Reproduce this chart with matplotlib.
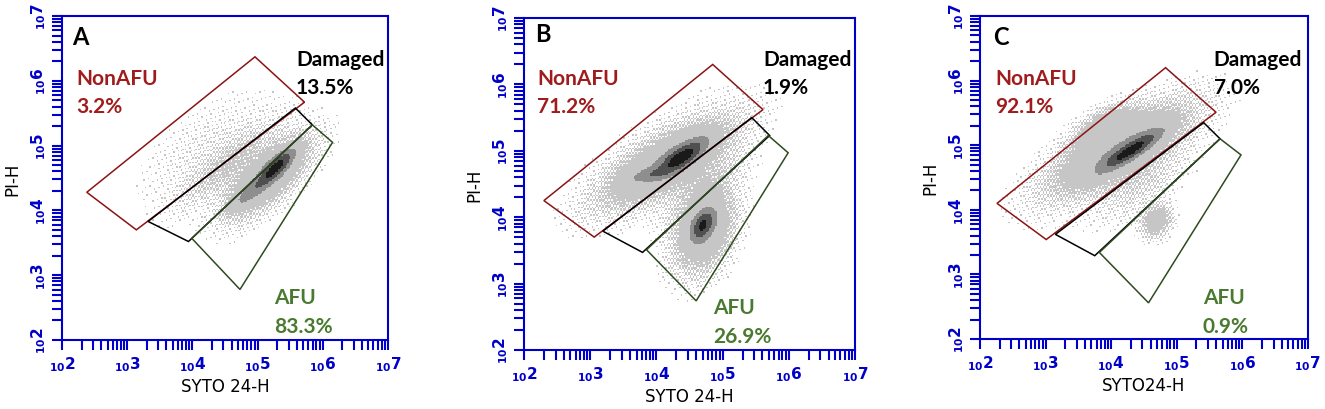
import numpy as np
import matplotlib
matplotlib.use('Agg')
import matplotlib.pyplot as plt
from matplotlib.patches import Polygon
from matplotlib.ticker import LogLocator, FixedLocator, FuncFormatter, NullFormatter
from matplotlib.colors import ListedColormap

# ---------------- data ----------------
panel_letters = ['A', 'B', 'C']
x_labels = ['SYTO 24-H', 'SYTO 24-H', 'SYTO24-H']
y_label = 'PI-H'
nonafu_pct = ['3.2%', '71.2%', '92.1%']
damaged_pct = ['13.5%', '1.9%', '7.0%']
afu_pct = ['83.3%', '26.9%', '0.9%']
decades = [2, 3, 4, 5, 6, 7]

# gate vertices, log10 units (x = SYTO 24-H, y = PI-H)
nonafu_gates = [
    [(2.38, 4.28), (4.96, 6.37), (5.72, 5.67), (3.14, 3.70)],
    [(2.30, 4.25), (4.85, 6.30), (5.61, 5.62), (3.06, 3.70)],
    [(2.26, 4.10), (4.83, 6.20), (5.60, 5.51), (3.01, 3.54)],
]
damaged_gates = [
    [(3.32, 3.83), (5.58, 5.58), (5.84, 5.32), (3.94, 3.52)],
    [(3.19, 3.79), (5.44, 5.50), (5.71, 5.23), (3.79, 3.47)],
    [(3.15, 3.62), (5.41, 5.35), (5.66, 5.10), (3.75, 3.29)],
]
afu_gates = [
    [(3.99, 3.57), (5.84, 5.32), (6.15, 5.05), (4.73, 2.78)],
    [(3.85, 3.51), (5.69, 5.23), (5.99, 4.97), (4.60, 2.74)],
    [(3.82, 3.34), (5.66, 5.10), (5.98, 4.85), (4.57, 2.56)],
]

# event-density components: centre x, centre y (log10), spread major, spread minor, angle (deg), weight
clusters_A = [
    (5.17, 4.52, 0.50, 0.21, 43, 2.2),
    (4.88, 4.28, 0.24, 0.075, 42, 2.2),
    (5.28, 4.66, 0.22, 0.075, 45, 8.0),
    (4.55, 4.72, 0.60, 0.17, 40, 0.75),
    (4.20, 5.00, 0.70, 0.30, 38, 0.22),
]
clusters_B = [
    (4.15, 4.82, 0.68, 0.24, 30, 2.1),
    (4.38, 4.90, 0.25, 0.09, 35, 8.5),
    (3.92, 4.64, 0.20, 0.055, 12, 2.3),
    (4.72, 3.82, 0.40, 0.25, 70, 2.2),
    (4.70, 3.88, 0.15, 0.09, 60, 6.8),
    (4.75, 4.45, 0.48, 0.20, 40, 0.45),
    (4.20, 4.90, 0.80, 0.34, 35, 0.20),
]
clusters_C = [
    (4.12, 4.93, 0.72, 0.25, 30, 2.2),
    (3.90, 5.30, 0.30, 0.14, 30, 1.6),
    (4.30, 4.92, 0.31, 0.075, 33, 8.0),
    (4.69, 3.83, 0.16, 0.13, 60, 1.7),
    (4.45, 4.35, 0.48, 0.20, 35, 0.42),
    (4.20, 4.90, 0.85, 0.34, 32, 0.20),
]
clusters = [clusters_A, clusters_B, clusters_C]

# ---------------- styling / layout ----------------
BLUE = '#0000C8'
RED_LINE = '#8B1414'
GREEN_LINE = '#2E4A1E'
RED_TXT = '#A01C1C'
GREEN_TXT = '#4A7A30'
gray_levels = ['#C6C6C6', '#8E8E8E', '#505050', '#1A1A1A']
level_thresholds = [1.0, 2.6, 5.0, 8.0]

axes_rects = [
    (0.0468, 0.1683, 0.2460, 0.7902),
    (0.3955, 0.1439, 0.2498, 0.8098),
    (0.7396, 0.1707, 0.2475, 0.7878),
]
letter_pos = [(0.03, 0.938), (0.033, 0.952), (0.04, 0.938)]
nonafu_pos = [(0.043, 0.809, 0.722), (0.039, 0.819, 0.735), (0.046, 0.808, 0.721)]
damaged_pos = [(0.718, 0.867, 0.781), (0.722, 0.877, 0.792), (0.713, 0.867, 0.780)]
afu_pos = [(0.650, 0.133, 0.043), (0.571, 0.130, 0.042), (0.680, 0.130, 0.040)]

LABEL_FONT = 'Lato'
LABEL_SIZE = 15

N = 220
edges = np.linspace(2, 7, N + 1)
centres = 0.5 * (edges[:-1] + edges[1:])
GX, GY = np.meshgrid(centres, centres)
# deterministic speckle texture (interleaved-gradient pattern) for sparse event regions
II, JJ = np.meshgrid(np.arange(N), np.arange(N))
speckle = np.mod(52.9829189 * np.mod(0.06711056 * II + 0.00583715 * JJ, 1.0), 1.0)

fig = plt.figure(figsize=(13.25, 4.10), dpi=100)

fmt = FuncFormatter(lambda v, p: r'$\mathbf{{}_{10}%d}$' % int(round(np.log10(v))))

for i in range(3):
    ax = fig.add_axes(axes_rects[i])
    ax.set_xscale('log')
    ax.set_yscale('log')
    ax.set_xlim(1e2, 1e7)
    ax.set_ylim(1e2, 1e7)

    # density
    D = np.zeros_like(GX)
    for (cx, cy, sM, sm, ang, w) in clusters[i]:
        t = np.deg2rad(ang)
        u = (GX - cx) * np.cos(t) + (GY - cy) * np.sin(t)
        v = -(GX - cx) * np.sin(t) + (GY - cy) * np.cos(t)
        D += w * np.exp(-0.5 * ((u / sM) ** 2 + (v / sm) ** 2))
    lev = np.zeros_like(D)
    lev[(D >= level_thresholds[0]) | ((D > 0.04) & (D > speckle * level_thresholds[0]))] = 1
    for k, th in enumerate(level_thresholds[1:], start=2):
        lev[D >= th] = k
    lev = np.ma.masked_where(lev == 0, lev)
    ax.pcolormesh(10 ** edges, 10 ** edges, lev, cmap=ListedColormap(gray_levels),
                  vmin=0.5, vmax=4.5, shading='flat', zorder=1, rasterized=True)

    # gates
    for gate, col in ((nonafu_gates[i], RED_LINE), (damaged_gates[i], 'black'), (afu_gates[i], GREEN_LINE)):
        pts = [(10 ** gx, 10 ** gy) for gx, gy in gate]
        ax.add_patch(Polygon(pts, closed=True, fill=False, edgecolor=col, lw=1.1, zorder=3))

    # axes styling
    for s in ax.spines.values():
        s.set_color(BLUE)
        s.set_linewidth(1.5)
    ax.xaxis.set_major_locator(FixedLocator([10.0 ** d for d in decades]))
    ax.yaxis.set_major_locator(FixedLocator([10.0 ** d for d in decades]))
    ax.xaxis.set_minor_locator(LogLocator(base=10, subs=np.arange(2, 10), numticks=20))
    ax.yaxis.set_minor_locator(LogLocator(base=10, subs=np.arange(2, 10), numticks=20))
    ax.xaxis.set_major_formatter(fmt)
    ax.yaxis.set_major_formatter(fmt)
    ax.xaxis.set_minor_formatter(NullFormatter())
    ax.yaxis.set_minor_formatter(NullFormatter())
    ax.tick_params(which='both', direction='out', color=BLUE, length=7, width=1.5,
                   labelcolor=BLUE, labelsize=11, pad=3)
    ax.tick_params(axis='y', labelrotation=90)
    for lab in ax.get_yticklabels():
        lab.set_va('center')

    ax.set_xlabel(x_labels[i], fontsize=12, color='black', labelpad=3)
    ax.set_ylabel(y_label, fontsize=12, color='black', labelpad=6)

    # texts
    lx, ly = letter_pos[i]
    ax.text(lx, ly, panel_letters[i], transform=ax.transAxes, fontsize=17, fontweight='bold',
            family=LABEL_FONT, ha='left', va='center', color='black')
    x0, y1, y2 = nonafu_pos[i]
    ax.text(x0, y1, 'NonAFU', transform=ax.transAxes, fontsize=LABEL_SIZE, fontweight='bold',
            family=LABEL_FONT, color=RED_TXT, ha='left', va='center')
    ax.text(x0, y2, nonafu_pct[i], transform=ax.transAxes, fontsize=LABEL_SIZE, fontweight='bold',
            family=LABEL_FONT, color=RED_TXT, ha='left', va='center')
    x0, y1, y2 = damaged_pos[i]
    ax.text(x0, y1, 'Damaged', transform=ax.transAxes, fontsize=LABEL_SIZE, fontweight='bold',
            family=LABEL_FONT, color='black', ha='left', va='center')
    ax.text(x0, y2, damaged_pct[i], transform=ax.transAxes, fontsize=LABEL_SIZE, fontweight='bold',
            family=LABEL_FONT, color='black', ha='left', va='center')
    x0, y1, y2 = afu_pos[i]
    ax.text(x0, y1, 'AFU', transform=ax.transAxes, fontsize=LABEL_SIZE, fontweight='bold',
            family=LABEL_FONT, color=GREEN_TXT, ha='left', va='center')
    ax.text(x0, y2, afu_pct[i], transform=ax.transAxes, fontsize=LABEL_SIZE, fontweight='bold',
            family=LABEL_FONT, color=GREEN_TXT, ha='left', va='center')

fig.savefig('out.png', dpi=100)
